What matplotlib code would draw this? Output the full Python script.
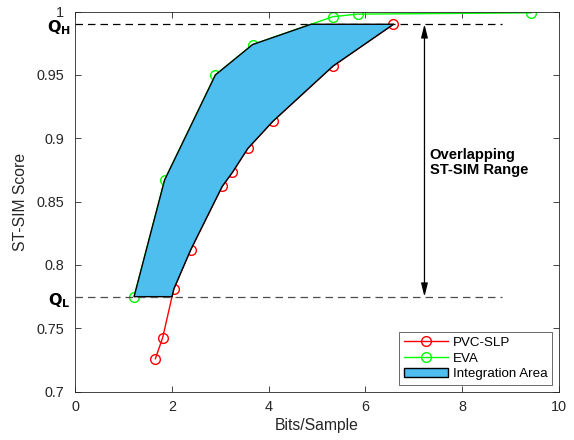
import numpy as np
import matplotlib
matplotlib.use("Agg")
import matplotlib.pyplot as plt

plt.rcParams['font.family'] = ['Liberation Sans', 'DejaVu Sans']

pvc_x = [1.66, 1.81, 2.04, 2.39, 3.04, 3.25, 3.57, 4.09, 5.33, 6.58]
pvc_y = [0.726, 0.7425, 0.781, 0.812, 0.862, 0.873, 0.892, 0.9135, 0.957, 0.990]
eva_x = [1.22, 1.85, 2.90, 3.67, 5.33, 5.84, 9.42]
eva_y = [0.775, 0.867, 0.950, 0.974, 0.996, 0.998, 0.999]
x_ticks = [0, 2, 4, 6, 8, 10]
y_ticks = [0.7, 0.75, 0.8, 0.85, 0.9, 0.95, 1.0]
y_ticklabels = ['0.7', '0.75', '0.8', '0.85', '0.9', '0.95', '1']

QL = min(eva_y)
QH = max(pvc_y)

fig = plt.figure(figsize=(5.74, 4.40), dpi=100)
ax = fig.add_axes([0.1307, 0.1098, (559 - 75) / 574, (391.7 - 11.6) / 440])

ax.plot(pvc_x, pvc_y, '-o', color='#FF0000', lw=1, ms=7, mfc='none', mew=1, label='PVC-SLP', zorder=2)
ax.plot(eva_x, eva_y, '-o', color='#00FF00', lw=1, ms=7, mfc='none', mew=1, label='EVA', zorder=2)

# integration polygon between curves for QL <= y <= QH
ex = np.array(eva_x); ey = np.array(eva_y)
px = np.array(pvc_x); py = np.array(pvc_y)
g_mask = ey < QH
g_top_x = np.interp(QH, ey, ex)
r_mask = py > QL
r_bot_x = np.interp(QL, py, px)
poly_x = list(ex[g_mask]) + [g_top_x] + list(px[r_mask][::-1]) + [r_bot_x]
poly_y = list(ey[g_mask]) + [QH] + list(py[r_mask][::-1]) + [QL]
ax.fill(poly_x, poly_y, facecolor='#4DBEEE', edgecolor='k', lw=1, label='Integration Area', zorder=3)

ax.plot([0, 8.82], [QH, QH], '--', color='k', lw=0.9, dashes=(6, 4), zorder=1)
ax.plot([0, 8.82], [QL, QL], '--', color='0.3', lw=0.9, dashes=(6, 4), zorder=4)

ax.annotate('', xy=(7.22, QH), xytext=(7.22, QL),
            arrowprops=dict(arrowstyle='<|-|>,head_length=0.8,head_width=0.2', color='k', lw=0.9, shrinkA=0, shrinkB=0))
ax.text(7.33, 0.881, 'Overlapping\nST-SIM Range', fontsize=10.6, fontweight='bold', ha='left', va='center', linespacing=1.1)

ax.text(-0.033, QH - 0.003, r'$\mathbf{Q_H}$', transform=ax.get_yaxis_transform(), ha='center', va='center', fontsize=11.5)
ax.text(-0.033, QL - 0.003, r'$\mathbf{Q_L}$', transform=ax.get_yaxis_transform(), ha='center', va='center', fontsize=11.5)

ax.set_xlim(0, 10)
ax.set_ylim(0.7, 1.0)
ax.set_xticks(x_ticks)
ax.set_yticks(y_ticks)
ax.set_yticklabels(y_ticklabels)
ax.tick_params(direction='in', top=True, right=True, labelsize=10.4, colors='0.15', length=4, width=0.6)
ax.tick_params(axis='x', pad=6)
ax.tick_params(axis='y', pad=8)
for s in ax.spines.values():
    s.set_color('0.15'); s.set_linewidth(0.6)
ax.set_xlabel('Bits/Sample', fontsize=11.3, color='0.15', labelpad=3)
ax.set_ylabel('ST-SIM Score', fontsize=11.3, color='0.15', labelpad=6)

leg = ax.legend(loc='lower right', fontsize=9.6, frameon=True, fancybox=False, edgecolor='0.15',
                handlelength=3.3, handletextpad=0.4, borderpad=0.35, labelspacing=0.25, borderaxespad=0.5)
leg.get_frame().set_linewidth(0.6)

fig.savefig('out.png', dpi=100)
